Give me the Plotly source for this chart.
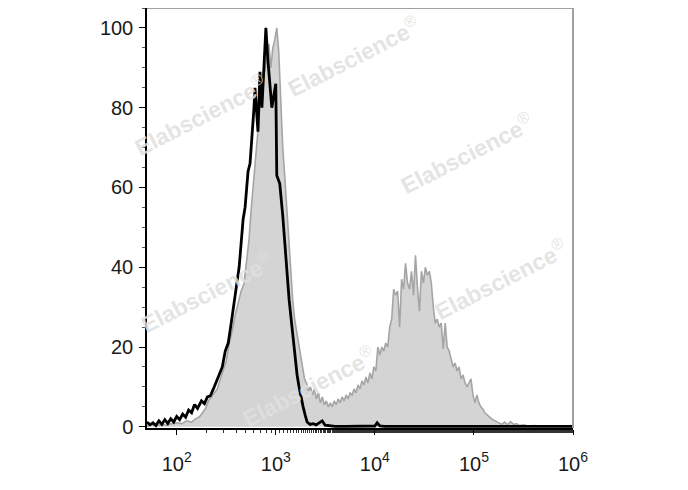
import plotly.graph_objects as go

# ---- data (log10 fluorescence intensity, % of max) ----
control_log = [1.70, 1.73, 1.76, 1.79, 1.82, 1.85, 1.88, 1.91, 1.94, 1.97, 2.00, 2.03, 2.06, 2.09,
               2.12, 2.15, 2.18, 2.21, 2.25, 2.28, 2.31, 2.34, 2.37, 2.40, 2.43, 2.46, 2.49, 2.52,
               2.55, 2.58, 2.61, 2.63, 2.65, 2.67, 2.69, 2.71, 2.72, 2.74, 2.76, 2.78, 2.79, 2.81,
               2.82, 2.84, 2.86, 2.88, 2.90, 2.92, 2.94, 2.96, 2.98, 3.00, 3.01, 3.04, 3.07, 3.09,
               3.11, 3.134, 3.155, 3.175, 3.195, 3.215, 3.235, 3.256, 3.276, 3.296, 3.316, 3.346,
               3.377, 3.407, 3.437, 3.468, 3.498, 3.548, 3.60, 3.70, 3.80, 3.90, 4.00, 4.023, 4.05,
               4.10, 4.30, 4.50, 4.70, 4.90, 5.10, 5.30, 5.50, 5.70, 5.90, 6.00]
control_pct = [1.2, 0.5, 1.0, 0.3, 1.5, 0.6, 1.8, 0.8, 2.0, 1.2, 2.6, 1.8, 3.2, 2.4,
               4.2, 3.5, 5.6, 4.6, 6.5, 5.8, 7.5, 7.8, 9.5, 11.5, 13, 15, 19, 21,
               26, 31, 36, 40, 46, 52, 55, 60, 64, 66, 72, 80, 85, 77,
               74, 89, 80, 90, 100, 92, 85, 80, 83, 86, 63, 61, 53, 46,
               41, 32, 27, 22, 17, 13, 10, 7, 5, 3, 1.2, 0.6,
               0.8, 0.5, 0.9, 1.5, 0.4, 0.2, 0.1, 0.1, 0.1, 0.1, 0.2, 1.0, 0.2,
               0.1, 0.1, 0.1, 0.1, 0.1, 0.1, 0.1, 0.1, 0.1, 0.1, 0.1]

stained_log = [1.70, 1.75, 1.80, 1.85, 1.90, 1.95, 2.00, 2.05, 2.10, 2.15, 2.19, 2.23, 2.26, 2.29,
               2.32, 2.35, 2.38, 2.41, 2.44, 2.47, 2.50, 2.53, 2.56, 2.59, 2.62, 2.65, 2.68, 2.71,
               2.73, 2.75, 2.77, 2.79, 2.81, 2.83, 2.85, 2.87, 2.89, 2.91, 2.93, 2.95, 2.97, 2.99,
               3.01, 3.03, 3.05, 3.07, 3.09, 3.11, 3.13, 3.15, 3.17, 3.19, 3.21, 3.23, 3.25, 3.27,
               3.29, 3.31, 3.33, 3.35, 3.37, 3.39, 3.41, 3.43, 3.45, 3.47, 3.49, 3.51, 3.53, 3.55,
               3.57, 3.59, 3.61, 3.63, 3.65, 3.67, 3.69, 3.71, 3.73, 3.75, 3.77, 3.79, 3.81, 3.83,
               3.85, 3.87, 3.89, 3.91, 3.93, 3.95, 3.97, 3.99, 4.01, 4.03, 4.05, 4.07, 4.09, 4.11,
               4.13, 4.15, 4.17, 4.19, 4.21, 4.23, 4.25, 4.27, 4.29, 4.31, 4.33, 4.35, 4.37, 4.39,
               4.41, 4.43, 4.45, 4.47, 4.49, 4.51, 4.53, 4.55, 4.57, 4.59, 4.61, 4.63, 4.65, 4.67,
               4.69, 4.71, 4.73, 4.75, 4.77, 4.79, 4.81, 4.83, 4.85, 4.87, 4.89, 4.91, 4.93, 4.95,
               4.97, 4.99, 5.01, 5.03, 5.05, 5.07, 5.09, 5.11, 5.13, 5.15, 5.17, 5.19, 5.21, 5.23,
               5.25, 5.28, 5.31, 5.34, 5.37, 5.40, 5.43, 5.46, 5.50, 5.55, 5.60, 5.70, 5.80, 6.00]
stained_pct = [0.2, 0.5, 0.3, 0.6, 0.4, 0.8, 1.0, 0.8, 1.5, 1.2, 2.0, 2.5, 3.5, 4.5,
               6.5, 7.5, 8.5, 9.5, 12, 14, 16.5, 21, 24, 28, 31, 34, 36, 43,
               47, 54, 60, 66, 72, 78, 83, 86, 90, 93, 96, 90, 95, 97,
               100, 94, 82, 70, 63, 55, 45, 40, 32, 27, 24, 20, 17, 15,
               12, 11, 9, 10, 8, 9.5, 7, 8.5, 6, 7.5, 5.5, 6.5, 5, 6,
               5, 6.5, 5.5, 7, 6, 7.5, 6.5, 8, 7, 8.5, 8, 9.5, 8.5, 10.5,
               9.5, 11.5, 10.5, 12.5, 11, 13.5, 12, 15, 14, 20, 18, 20, 19, 21,
               20, 25, 27, 34.5, 33, 34, 25, 37, 34.5, 41, 36, 34.5, 39, 33,
               43, 35, 29, 39, 36, 40, 38, 39, 36, 30, 26, 27, 25, 26,
               19.5, 26, 20, 19, 17, 15, 16, 14, 15, 12, 13, 11, 10, 11,
               12, 8, 6, 8, 6, 5, 4.5, 3.5, 3, 2.7, 2.2, 1.8, 1.5, 1.2,
               1.0, 0.6, 1.2, 0.5, 1.3, 0.6, 0.8, 0.3, 0.5, 0.2, 0.3, 0.1, 0.1, 0.0]

y_ticks = [0, 20, 40, 60, 80, 100]
x_tick_vals = [100, 1000, 10000, 100000, 1000000]
x_tick_text = ["10<sup>2</sup>", "10<sup>3</sup>", "10<sup>4</sup>", "10<sup>5</sup>", "10<sup>6</sup>"]
watermark = "<b>Elabscience</b><sup>®</sup>"
wm_pos = [(0.485, 0.885), (0.125, 0.745), (0.75, 0.655), (0.83, 0.355), (0.14, 0.325), (0.38, 0.1)]

fig = go.Figure()
fig.add_trace(go.Scatter(
    x=[10 ** v for v in stained_log], y=stained_pct, mode="lines",
    fill="tozeroy", fillcolor="rgb(212,212,212)",
    line=dict(color="rgb(165,165,165)", width=1.6), showlegend=False))
fig.add_trace(go.Scatter(
    x=[10 ** v for v in control_log], y=control_pct, mode="lines",
    line=dict(color="black", width=2.8), showlegend=False))

font = dict(family="Liberation Sans, Arial, sans-serif", size=20, color="#1a1a1a")

fig.update_xaxes(type="log", range=[1.70, 6.0], tickvals=x_tick_vals, ticktext=x_tick_text,
                 ticks="outside", ticklen=5, tickcolor="black", tickwidth=1.2,
                 showline=True, linecolor="black", linewidth=1.5, mirror=False,
                 showgrid=False, zeroline=False, tickfont=font, ticklabelstandoff=12,
                 minor=dict(ticks="outside", ticklen=3, tickcolor="#333", showgrid=False))
fig.update_yaxes(range=[-0.3, 105], tickvals=y_ticks, ticks="outside", ticklen=6,
                 tickcolor="black", tickwidth=1.2, showline=True, linecolor="black",
                 linewidth=1.5, showgrid=False, zeroline=False, tickfont=font,
                 ticklabelstandoff=2,
                 minor=dict(dtick=5, ticks="outside", ticklen=3, tickcolor="#555", showgrid=False))

shapes = [
    dict(type="line", xref="paper", yref="paper", x0=0, x1=1, y0=1, y1=1,
         line=dict(color="rgb(160,160,160)", width=2)),
    dict(type="line", xref="paper", yref="paper", x0=1, x1=1, y0=0, y1=1,
         line=dict(color="rgb(160,160,160)", width=2)),
]
annotations = [dict(text=watermark, x=px, y=py, xref="paper", yref="paper",
                    xanchor="center", yanchor="middle",
                    showarrow=False, textangle=-27,
                    font=dict(family="Liberation Sans, Arial, sans-serif", size=23,
                              color="rgba(224,224,224,0.85)"))
               for px, py in wm_pos]

# page body has an 8px margin, so the figure is sized/offset to compensate
fig.update_layout(width=680, height=482, margin=dict(l=139, r=115, t=0, b=62),
                  plot_bgcolor="white", paper_bgcolor="white",
                  shapes=shapes, annotations=annotations)

fig.write_html("out.html")
